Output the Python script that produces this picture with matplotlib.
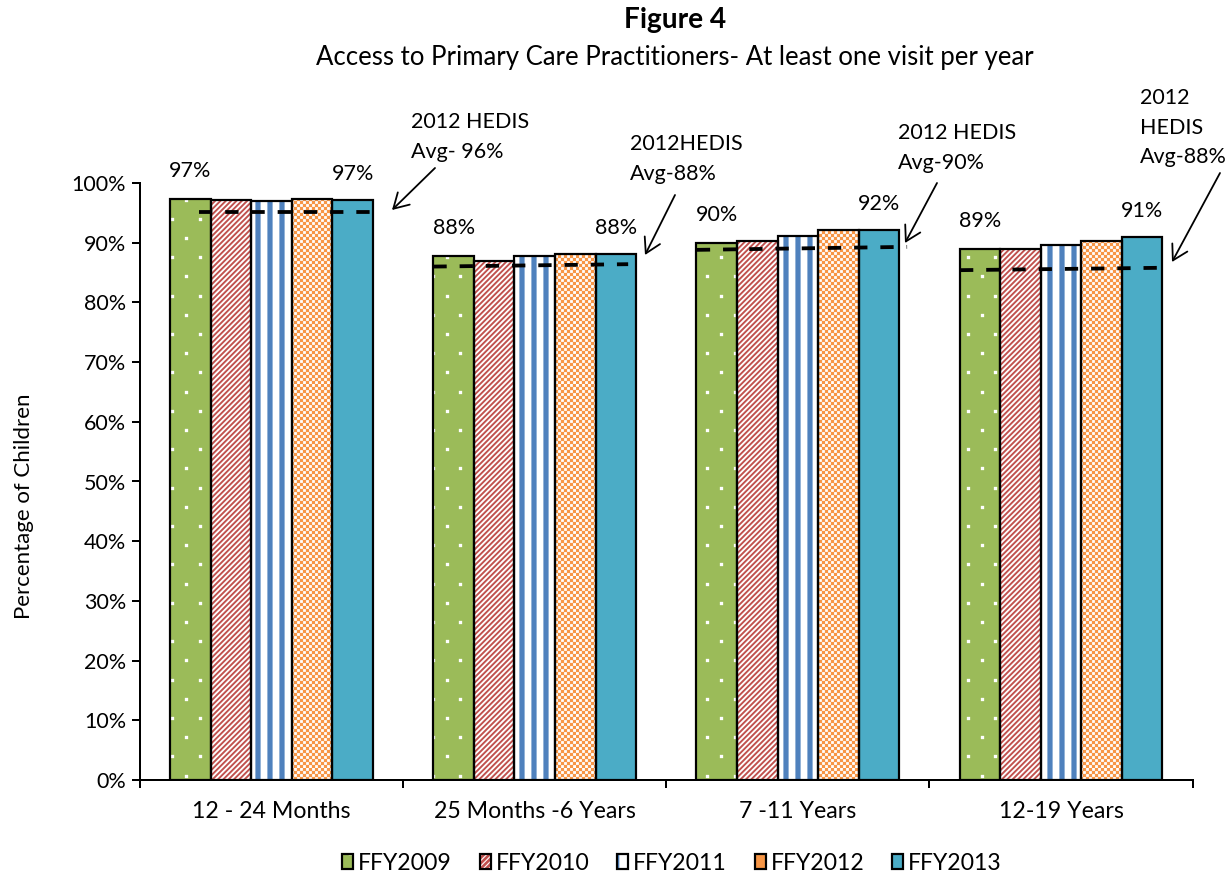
import matplotlib
matplotlib.use("Agg")
import matplotlib.pyplot as plt
import matplotlib.hatch as mhatch
from matplotlib.path import Path
from matplotlib.patches import Patch, FancyArrowPatch
from matplotlib.legend_handler import HandlerTuple
import numpy as np

# ---------------- data ----------------
categories = ["12 - 24 Months", "25 Months -6 Years", "7 -11 Years", "12-19 Years"]
series_names = ["FFY2009", "FFY2010", "FFY2011", "FFY2012", "FFY2013"]
ffy2009 = [97.4, 87.8, 89.9, 88.9]
ffy2010 = [97.2, 87.0, 90.3, 89.0]
ffy2011 = [96.9, 87.7, 91.2, 89.6]
ffy2012 = [97.4, 88.1, 92.2, 90.3]
ffy2013 = [97.2, 88.1, 92.1, 91.0]
first_labels = ["97%", "88%", "90%", "89%"]
last_labels = ["97%", "88%", "92%", "91%"]
hedis_start = [95.1, 86.0, 88.8, 85.4]
hedis_end = [95.1, 86.4, 89.3, 85.8]
hedis_texts = ["2012 HEDIS\nAvg- 96%", "2012HEDIS\nAvg-88%", "2012 HEDIS\nAvg-90%", "2012\nHEDIS\nAvg-88%"]
yticks = [0, 10, 20, 30, 40, 50, 60, 70, 80, 90, 100]

# ---------------- layout ----------------
W, H = 1231, 878
DPI = 192
T = DPI  # hatch tile size in pixels
def pt(px):
    return px * 72.0 / DPI
def fx(px):
    return px / W
def fy(py):
    return 1 - py / H

# ---------------- custom Excel-like fill patterns ----------------
def _lines_path(segs):
    verts, codes = [], []
    for x0, y0, x1, y1 in segs:
        verts += [(x0, y0), (x1, y1)]
        codes += [Path.MOVETO, Path.LINETO]
    return Path(np.array(verts, float), np.array(codes, dtype=Path.code_type))

def _squares_path(boxes):
    verts, codes = [], []
    for x0, y0, x1, y1 in boxes:
        verts += [(x0, y0), (x1, y0), (x1, y1), (x0, y1), (x0, y0)]
        codes += [Path.MOVETO, Path.LINETO, Path.LINETO, Path.LINETO, Path.CLOSEPOLY]
    return Path(np.array(verts, float) / T, np.array(codes, dtype=Path.code_type))

def _dots():
    R, K, s = 10, 7, 3
    boxes = []
    for r in range(R):
        y = round((r + 0.5) * T / R)
        sh = 0.5 / K if r % 2 else 0.0
        for k in range(K):
            xx = round(((k + 0.25) / K + sh) * T)
            boxes.append((xx, y, xx + s, y + s))
    return _squares_path(boxes)

def _diag():
    N = 36
    return _lines_path([(i / N, 0.0, i / N + 1.0, 1.0) for i in range(-N - 1, N + 2)])

def _vert():
    N = 16
    return _lines_path([((k + 0.5) / N, -0.05, (k + 0.5) / N, 1.05) for k in range(N)])

def _checks():
    c = 3
    N = T // c
    boxes = [(i * c, j * c, (i + 1) * c, (j + 1) * c)
             for i in range(N) for j in range(N) if (i + j) % 2 == 0]
    return _squares_path(boxes)

CUSTOM = {".": _dots(), "/": _diag(), "|": _vert(), "+": _checks()}
_orig_get_path = mhatch.get_path
def _get_path(hatchpattern, density=6):
    if hatchpattern in CUSTOM:
        return CUSTOM[hatchpattern]
    return _orig_get_path(hatchpattern, density)
mhatch.get_path = _get_path

plt.rcParams['font.family'] = ['Lato', 'DejaVu Sans']
FS = pt(21.5)

fig = plt.figure(figsize=((W + 0.01) / DPI, (H + 0.01) / DPI), dpi=DPI)
ax = fig.add_axes([fx(140), fy(780), fx(1192.6) - fx(140), fy(183) - fy(780)])

styles = [
    dict(fc="#9BBB59", hc="white", hatch=".", hlw=pt(0.3)),
    dict(fc="white", hc="#C0504D", hatch="/", hlw=pt(1.9)),
    dict(fc="white", hc="#4F81BD", hatch="|", hlw=pt(5.2)),
    dict(fc="white", hc="#F79646", hatch="+", hlw=pt(0.2)),
    dict(fc="#4BACC6", hc="#4BACC6", hatch=None, hlw=pt(1)),
]
series = [ffy2009, ffy2010, ffy2011, ffy2012, ffy2013]
x = np.arange(len(categories))
bw = 0.1542
handles = []
for i, (vals, st) in enumerate(zip(series, styles)):
    xs = x + (i - 2) * bw
    with plt.rc_context({'hatch.linewidth': st['hlw']}):
        ax.bar(xs, vals, width=bw, color=st['fc'], edgecolor=st['hc'], hatch=st['hatch'],
               linewidth=0, zorder=2)
        hp = Patch(facecolor=st['fc'], edgecolor=st['hc'], hatch=st['hatch'], linewidth=0)
    ax.bar(xs, vals, width=bw, fill=False, edgecolor="black", linewidth=pt(2.2), zorder=3)
    op = Patch(fill=False, edgecolor="black", linewidth=pt(2.2))
    handles.append((hp, op))

# data labels (first and last series)
for i in range(len(categories)):
    ax.annotate(first_labels[i], (x[i] - 2 * bw, ffy2009[i]), xytext=(0, pt(28)),
                textcoords="offset points", ha="center", va="center", fontsize=FS, zorder=5)
    ax.annotate(last_labels[i], (x[i] + 2 * bw, ffy2013[i]), xytext=(0, pt(26)),
                textcoords="offset points", ha="center", va="center", fontsize=FS, zorder=5)

# HEDIS dashed lines
hedis_x0 = [-0.277, -0.385, -0.384, -0.384]
hedis_x1 = [0.414, 0.355, 0.415, 0.388]
for i in range(len(categories)):
    ax.plot([x[i] + hedis_x0[i], x[i] + hedis_x1[i]], [hedis_start[i], hedis_end[i]],
            color="black", linewidth=pt(3.8), dashes=(3.5, 3.4), solid_capstyle="butt",
            dash_capstyle="butt", zorder=4)

ax.set_xlim(-0.5, 3.5)
ax.set_ylim(0, 100)
ax.set_yticks(yticks)
ax.set_yticklabels([f"{v}%" for v in yticks], fontsize=FS)
ax.set_xticks(x)
ax.set_xticklabels(categories, fontsize=pt(23.2))
ax.set_xticks(np.arange(-0.5, 4.0, 1.0), minor=True)
ax.tick_params(axis="x", which="major", length=0, pad=pt(21))
ax.tick_params(axis="x", which="minor", length=pt(8), width=pt(2), direction="out")
ax.tick_params(axis="y", length=pt(8), width=pt(2), direction="out", pad=pt(6))
for s in ["top", "right"]:
    ax.spines[s].set_visible(False)
for s in ["left", "bottom"]:
    ax.spines[s].set_linewidth(pt(2))

# titles
fig.text(fx(675), fy(20), "Figure 4", ha="center", va="center", fontsize=pt(28), fontweight="bold")
fig.text(fx(675), fy(57), "Access to Primary Care Practitioners- At least one visit per year",
         ha="center", va="center", fontsize=pt(25.8))
fig.text(fx(24), fy(506), "Percentage of Children", rotation=90, ha="center", va="center",
         fontsize=pt(22.3))

# HEDIS annotations
txt_pos = [(411, 112), (630, 134), (898, 123), (1140, 88)]
arrow_pts = [((435, 168), (392, 210)), ((675, 195), (645, 255)),
             ((937, 183), (905, 243)), ((1220, 173), (1172, 262))]
for t, (tx, ty), (p0, p1) in zip(hedis_texts, txt_pos, arrow_pts):
    fig.text(fx(tx), fy(ty), t, ha="left", va="top", fontsize=FS, linespacing=1.6)
    arr = FancyArrowPatch((fx(p0[0]), fy(p0[1])), (fx(p1[0]), fy(p1[1])),
                          transform=fig.transFigure, arrowstyle="->,head_length=0.55,head_width=0.32",
                          mutation_scale=10, color="black", linewidth=pt(1.8), shrinkA=0, shrinkB=0)
    fig.add_artist(arr)

# legend
leg = fig.legend(handles, series_names, loc="center", bbox_to_anchor=(fx(672), fy(863)),
                 ncol=5, frameon=False, fontsize=pt(23), handlelength=0.48, handleheight=0.6,
                 handletextpad=0.22, columnspacing=1.2,
                 handler_map={tuple: HandlerTuple(ndivide=1)})

fig.savefig("out.png", dpi=DPI)
